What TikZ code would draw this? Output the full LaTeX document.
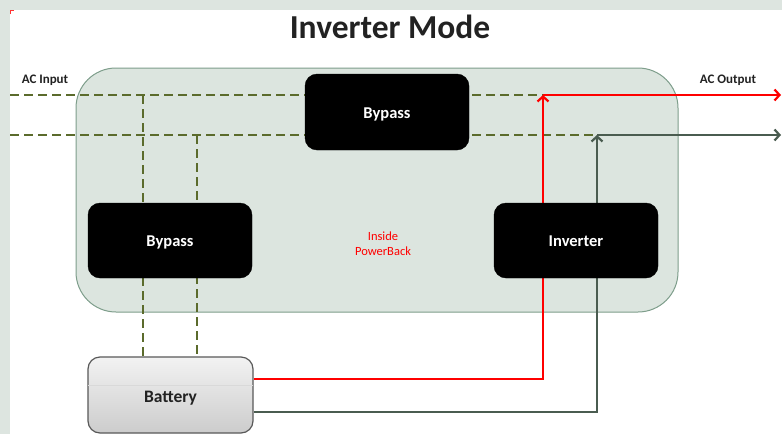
\documentclass[tikz,border=0pt]{standalone}
\usepackage{fontspec}
\setmainfont{Carlito}
\usetikzlibrary{arrows.meta}
\definecolor{framebg}{HTML}{DDE5E0}
\definecolor{pbfill}{HTML}{DCE5DF}
\definecolor{pbdraw}{HTML}{7E9E8B}
\definecolor{olive}{HTML}{5B6B2C}
\definecolor{darkline}{HTML}{4A5C50}
\definecolor{redline}{HTML}{FF0000}
\definecolor{titlec}{HTML}{222222}
\pgfdeclarelayer{back}
\pgfdeclarelayer{mid}
\pgfsetlayers{back,mid,main}
\tikzset{
  blk/.style={draw=black, fill=black, rounded corners=12pt, text=white,
    font=\fontsize{16.5}{18}\selectfont\bfseries, minimum width=164pt, minimum height=75pt, inner sep=0pt,
    text height=16pt, text depth=4pt},
  dsh/.style={draw=olive, line width=2.5pt, dash pattern=on 9pt off 5pt},
  tip/.style={-{Straight Barb[length=5pt,width=11pt,line width=2.2pt]}},
  redw/.style={draw=redline, line width=2.5pt},
  grayw/.style={draw=darkline, line width=2.5pt},
  lbl/.style={font=\fontsize{13}{15}\selectfont\bfseries, text=titlec, inner sep=0pt}
}
\begin{document}
\begin{tikzpicture}[x=1pt,y=-1pt]
\useasboundingbox (0,0) rectangle (782,434);
\begin{pgfonlayer}{back}
  \fill[framebg] (0,0) rectangle (782,434);
  \fill[white] (10,10) rectangle (782,434);
  \draw[redline!80!white, line width=1pt] (10.5,14) -- (10.5,10.5) -- (14,10.5);
  \node[draw=pbdraw, fill=pbfill, line width=1pt, rounded corners=40pt,
        minimum width=602pt, minimum height=244pt] (pb) at (377,190) {};
\end{pgfonlayer}

% title and labels
\node[font=\fontsize{33.5}{36}\selectfont\bfseries, text=titlec] (title) at (390,27) {Inverter Mode};
\node[lbl] (acin) at (45,80.5) {AC Input};
\node[lbl] (acout) at (728,80.5) {AC Output};
\node[font=\fontsize{12.5}{15}\selectfont, text=redline, align=center, inner sep=0pt] (inside) at (383,244) {Inside\\PowerBack};

% blocks
\node[blk, minimum height=76pt] (bp1) at (387,112) {Bypass};
\node[blk] (bp2) at (170,240.5) {Bypass};
\node[blk] (inv) at (576,240.5) {Inverter};
\node[draw=gray!70!black, line width=1.2pt, rounded corners=12pt,
      top color=gray!10, bottom color=gray!40,
      minimum width=165pt, minimum height=76pt, inner sep=0pt,
      text height=19pt, text depth=4pt,
      font=\fontsize{17.5}{19}\selectfont\bfseries, text=titlec] (bat) at (170.5,395) {Battery};
\draw[gray!30, line width=0.8pt] ([xshift=1pt]bat.west |- 0,385) -- ([xshift=-1pt]bat.east |- 0,385);

\coordinate (in1) at (10,95);
\coordinate (in2) at (10,135);
\coordinate (j1) at (543,95);
\coordinate (j2) at (597,135);
\coordinate (out1) at (781,95);
\coordinate (out2) at (781,135);
\coordinate (v1) at (143,95);
\coordinate (v2) at (197,135);

\begin{pgfonlayer}{mid}
  \draw[dsh] (in1) -- (j1);
  \draw[dsh] (in2) -- (j2);
  \draw[dsh] (v1) -- (v1 |- bat.north);
  \draw[dsh] (v2) -- (v2 |- bat.north);
  \draw[grayw, tip] (bat.east |- 0,412) -| (j2);
  \draw[grayw, tip] (j2) -- (out2);
  \draw[redw, tip] (bat.east |- 0,379) -| (j1);
  \draw[redw, tip] (j1) -- (out1);
\end{pgfonlayer}
\end{tikzpicture}
\end{document}
